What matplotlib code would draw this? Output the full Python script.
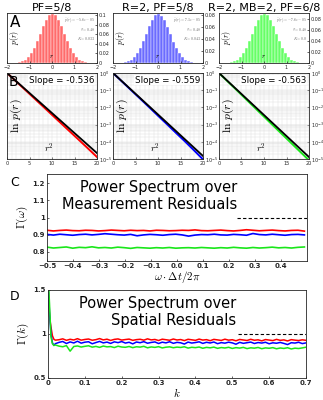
import numpy as np
import matplotlib
matplotlib.use("Agg")
import matplotlib.pyplot as plt
from matplotlib.ticker import MultipleLocator, LogLocator, NullFormatter

plt.rcParams["mathtext.fontset"] = "cm"
plt.rcParams["font.family"] = "DejaVu Sans"

# ---- data ----
titles = ["PF=5/8", "R=2, PF=5/8", "R=2, MB=2, PF=6/8"]
hist_colors = [(1.0, 0.42, 0.42), (0.42, 0.42, 1.0), (0.4, 1.0, 0.4)]
line_colors = [(1.0, 0.0, 0.0), (0.0, 0.0, 1.0), (0.1, 0.9, 0.1)]

bin_centers = np.arange(-12, 13) * (2 / 15)
hist_red = [0.0009, 0.0019, 0.0038, 0.0072, 0.0126, 0.0205, 0.0315, 0.0452, 0.0609, 0.0766, 0.0903, 0.0997, 0.103,
            0.0995, 0.0905, 0.0764, 0.0611, 0.0450, 0.0313, 0.0207, 0.0125, 0.0073, 0.0037, 0.0019, 0.0009]
hist_blue = [0.0007, 0.0015, 0.003, 0.0057, 0.010, 0.0163, 0.0251, 0.036, 0.0485, 0.061, 0.0719, 0.0794, 0.082,
             0.0792, 0.0721, 0.0608, 0.0487, 0.0358, 0.0252, 0.0162, 0.0101, 0.0056, 0.003, 0.0015, 0.0007]
hist_green = [0.0008, 0.0017, 0.0033, 0.0063, 0.011, 0.0179, 0.0275, 0.0395, 0.0532, 0.067, 0.0789, 0.0871, 0.090,
              0.0873, 0.0787, 0.0672, 0.0530, 0.0397, 0.0273, 0.0180, 0.0109, 0.0064, 0.0033, 0.0017, 0.0008]
hist_ylims = [0.105, 0.084, 0.092]
hist_ticks = [[0, 0.02, 0.04, 0.06, 0.08, 0.1], [0, 0.02, 0.04, 0.06, 0.08], [0, 0.02, 0.04, 0.06, 0.08]]
hist_notes = [r"$\bar{p}(r)=-5.6e-05$" + "\n" + r"$\sigma=0.48$" + "\n" + r"$K=0.033$",
              r"$\bar{p}(r)=7.1e-05$" + "\n" + r"$\sigma=0.48$" + "\n" + r"$K=0.043$",
              r"$\bar{p}(r)=-7.6e-05$" + "\n" + r"$\sigma=0.48$" + "\n" + r"$K=0.0$"]

r2 = [0, 2, 4, 6, 8, 10, 12, 14, 16, 18, 20]
lnp_red = [1.0, 0.33, 0.107, 0.035, 0.0114, 3.7e-3, 1.2e-3, 3.9e-4, 1.27e-4, 4.1e-5, 1.3e-5]
lnp_blue = [1.0, 0.32, 0.102, 0.033, 0.0105, 3.3e-3, 1.05e-3, 3.3e-4, 1.05e-4, 3.2e-5, 9.5e-6]
lnp_green = [1.0, 0.31, 0.097, 0.030, 0.0093, 2.9e-3, 9.0e-4, 2.8e-4, 8.7e-5, 2.7e-5, 8.4e-6]
fit_r2 = [0, 20]
fit_red = [1.0, 2.2e-5]
fit_blue = [1.0, 1.5e-5]
fit_green = [1.0, 1.3e-5]
slopes = ["Slope = -0.536", "Slope = -0.559", "Slope = -0.563"]

omega = np.linspace(-0.5, 0.49, 41)
gam_w_red = [0.926, 0.922, 0.925, 0.927, 0.924, 0.923, 0.926, 0.925, 0.922, 0.924, 0.927, 0.925, 0.923, 0.926,
             0.924, 0.925, 0.922, 0.926, 0.925, 0.923, 0.924, 0.926, 0.925, 0.928, 0.924, 0.923, 0.925, 0.927,
             0.924, 0.922, 0.925, 0.929, 0.926, 0.923, 0.925, 0.927, 0.924, 0.922, 0.925, 0.926, 0.921]
gam_w_blue = [0.902, 0.898, 0.903, 0.900, 0.897, 0.901, 0.903, 0.899, 0.902, 0.906, 0.903, 0.900, 0.898, 0.902,
              0.894, 0.899, 0.902, 0.900, 0.897, 0.901, 0.903, 0.899, 0.892, 0.898, 0.901, 0.900, 0.903, 0.899,
              0.898, 0.902, 0.900, 0.897, 0.907, 0.901, 0.899, 0.903, 0.900, 0.897, 0.901, 0.902, 0.899]
gam_w_green = [0.828, 0.823, 0.826, 0.829, 0.822, 0.827, 0.825, 0.830, 0.824, 0.826, 0.823, 0.828, 0.825, 0.821,
               0.826, 0.824, 0.822, 0.825, 0.823, 0.826, 0.822, 0.824, 0.825, 0.823, 0.826, 0.824, 0.822, 0.825,
               0.823, 0.827, 0.824, 0.822, 0.826, 0.823, 0.825, 0.828, 0.824, 0.826, 0.823, 0.827, 0.829]

k = np.concatenate([[0, 0.004, 0.008, 0.012, 0.016, 0.02], np.arange(0.03, 0.705, 0.01)])
gam_k_red = [1.55, 1.20, 1.08, 0.98, 0.94, 0.93,
             0.935, 0.945, 0.928, 0.940, 0.932, 0.947, 0.930, 0.938, 0.943, 0.929,
             0.936, 0.948, 0.933, 0.941, 0.927, 0.939, 0.944, 0.931, 0.937, 0.942,
             0.928, 0.936, 0.940, 0.930, 0.945, 0.933, 0.938, 0.926, 0.941, 0.935,
             0.929, 0.943, 0.932, 0.937, 0.925, 0.940, 0.934, 0.928, 0.942, 0.931,
             0.936, 0.924, 0.939, 0.933, 0.927, 0.941, 0.930, 0.935, 0.923, 0.938,
             0.932, 0.926, 0.940, 0.929, 0.934, 0.922, 0.937, 0.931, 0.925, 0.939,
             0.928, 0.933, 0.921, 0.936, 0.930, 0.926, 0.934, 0.928]
gam_k_blue = [1.60, 1.25, 1.00, 0.90, 0.87, 0.89,
              0.905, 0.915, 0.892, 0.910, 0.898, 0.918, 0.896, 0.907, 0.912, 0.889,
              0.903, 0.916, 0.899, 0.908, 0.893, 0.911, 0.902, 0.914, 0.897, 0.906,
              0.888, 0.909, 0.901, 0.913, 0.895, 0.904, 0.910, 0.892, 0.907, 0.899,
              0.912, 0.894, 0.905, 0.900, 0.886, 0.908, 0.897, 0.903, 0.911, 0.893,
              0.906, 0.898, 0.909, 0.890, 0.902, 0.896, 0.907, 0.899, 0.884, 0.905,
              0.894, 0.901, 0.908, 0.892, 0.903, 0.897, 0.906, 0.889, 0.900, 0.895,
              0.904, 0.893, 0.880, 0.901, 0.897, 0.906, 0.891, 0.899]
gam_k_green = [1.70, 1.35, 0.97, 0.89, 0.87, 0.875,
               0.862, 0.855, 0.868, 0.805, 0.858, 0.864, 0.852, 0.860, 0.866, 0.851,
               0.859, 0.848, 0.863, 0.854, 0.857, 0.846, 0.861, 0.852, 0.849, 0.858,
               0.845, 0.855, 0.851, 0.860, 0.843, 0.853, 0.848, 0.856, 0.842, 0.850,
               0.854, 0.844, 0.851, 0.847, 0.855, 0.840, 0.849, 0.845, 0.852, 0.838,
               0.848, 0.843, 0.851, 0.837, 0.846, 0.841, 0.849, 0.836, 0.845, 0.840,
               0.848, 0.834, 0.843, 0.839, 0.847, 0.833, 0.842, 0.838, 0.845, 0.832,
               0.841, 0.836, 0.844, 0.830, 0.839, 0.835, 0.842, 0.850]

W, H = 323, 400
fig = plt.figure(figsize=(W / 100, H / 100), dpi=100)


def px_axes(left, top, right, bottom):
    return fig.add_axes([left / W, 1 - bottom / H, (right - left) / W, (bottom - top) / H])


def style(ax, size=4.5):
    for s in ax.spines.values():
        s.set_linewidth(0.6)
        s.set_color("0.15")
    ax.tick_params(direction="in", length=1.5, width=0.5, labelsize=size, pad=1.5, colors="0.15")


lefts = [7, 113, 219]

# ---- row A: histograms ----
hists = [hist_red, hist_blue, hist_green]
for i in range(3):
    ax = px_axes(lefts[i], 12.7, lefts[i] + 90, 63)
    ax.bar(bin_centers, hists[i], width=2 / 15, color=hist_colors[i], edgecolor="white", linewidth=0.3)
    ax.set_xlim(-2, 2)
    ax.set_ylim(0, hist_ylims[i])
    ax.set_xticks([-2, -1, 0, 1, 2])
    ax.set_yticks(hist_ticks[i])
    ax.set_yticklabels([f"{t:g}" for t in hist_ticks[i]])
    ax.yaxis.tick_right()
    style(ax, 3.5)
    ax.set_title(titles[i], fontsize=8, pad=1.5)
    ax.text(0.98, 0.95, hist_notes[i], transform=ax.transAxes, ha="right", va="top",
            fontsize=2.8, color="0.4", linespacing=1.4)
    ax.text(0.08, 0.5, r"$p(r)$", transform=ax.transAxes, rotation=90, ha="center", va="center", fontsize=5.5)
    ax.text(0.5, 0.06, r"$r$", transform=ax.transAxes, ha="center", va="bottom", fontsize=5)
    if i == 0:
        ax.text(0.03, 0.95, "A", transform=ax.transAxes, ha="left", va="top", fontsize=11)

# ---- row B: log plots ----
lnps = [lnp_red, lnp_blue, lnp_green]
fits = [fit_red, fit_blue, fit_green]
for i in range(3):
    ax = px_axes(lefts[i], 73, lefts[i] + 90, 159)
    ax.set_yscale("log")
    ax.grid(True, which="both", color="0.86", linewidth=0.3)
    ax.xaxis.set_minor_locator(MultipleLocator(1))
    ax.yaxis.set_minor_locator(LogLocator(base=10, subs=np.arange(2, 10)))
    ax.yaxis.set_minor_formatter(NullFormatter())
    ax.plot(r2, lnps[i], color=line_colors[i], lw=1.4)
    ax.plot(fit_r2, fits[i], color="black", lw=1.3)
    ax.set_xlim(0, 20)
    ax.set_ylim(1e-5, 1)
    ax.set_xticks([0, 5, 10, 15, 20])
    ax.set_yticks([1e-5, 1e-4, 1e-3, 1e-2, 1e-1, 1])
    ax.yaxis.tick_right()
    ax.tick_params(which="minor", length=0)
    style(ax, 3.5)
    ax.text(0.97, 0.97, slopes[i], transform=ax.transAxes, ha="right", va="top", fontsize=6.3,
            bbox=dict(facecolor="white", edgecolor="none", pad=0.5))
    ax.text(0.1, 0.5, r"$\ln\,p(r)$", transform=ax.transAxes, rotation=90, ha="center", va="center",
            fontsize=8.5)
    ax.text(0.47, 0.05, r"$r^2$", transform=ax.transAxes, ha="center", va="bottom", fontsize=7)
    if i == 0:
        ax.text(0.02, 0.98, "B", transform=ax.transAxes, ha="left", va="top", fontsize=10)

# ---- row C ----
ax = px_axes(47, 174.4, 307, 260.6)
ax.plot(omega, gam_w_red, color=line_colors[0], lw=1.2)
ax.plot(omega, gam_w_blue, color=line_colors[1], lw=1.2)
ax.plot(omega, gam_w_green, color=line_colors[2], lw=1.2)
ax.axhline(1, xmin=0.73, color="black", ls="--", lw=0.8, dashes=(3, 2))
ax.set_xlim(-0.5, 0.5)
ax.set_ylim(0.75, 1.25)
ax.set_xticks(np.round(np.arange(-0.5, 0.45, 0.1), 1))
ax.set_yticks([0.8, 0.9, 1, 1.1, 1.2])
ax.set_yticklabels(["0.8", "0.9", "1", "1.1", "1.2"])
style(ax, 5)
for t in ax.get_xticklabels() + ax.get_yticklabels():
    t.set_fontweight("bold")
ax.set_xlabel(r"$\omega\cdot\Delta t/2\pi$", fontsize=8, labelpad=0)
ax.set_ylabel(r"$\Gamma(\omega)$", fontsize=8, labelpad=2)
ax.text(0.73, 0.93, "Power Spectrum over\nMeasurement Residuals", transform=ax.transAxes,
        ha="right", va="top", multialignment="right", fontsize=10.5, linespacing=1.15)
fig.text(10 / W, 1 - 183 / H, "C", fontsize=9, va="center")

# ---- row D ----
ax = px_axes(48, 290, 306, 378)
ax.plot(k, gam_k_red, color=line_colors[0], lw=1.1)
ax.plot(k, gam_k_blue, color=line_colors[1], lw=1.1)
ax.plot(k, gam_k_green, color=line_colors[2], lw=1.1)
ax.axhline(1, xmin=0.735, color="black", ls="--", lw=0.8, dashes=(3, 2))
ax.set_xlim(0, 0.7)
ax.set_ylim(0.5, 1.5)
ax.set_xticks(np.round(np.arange(0, 0.75, 0.1), 1))
ax.set_xticklabels(["0", "0.1", "0.2", "0.3", "0.4", "0.5", "0.6", "0.7"])
ax.set_yticks([0.5, 1, 1.5])
ax.set_yticklabels(["0.5", "1", "1.5"])
style(ax, 5)
for t in ax.get_xticklabels() + ax.get_yticklabels():
    t.set_fontweight("bold")
ax.set_xlabel(r"$k$", fontsize=8, labelpad=0)
ax.set_ylabel(r"$\Gamma(k)$", fontsize=8, labelpad=2)
ax.text(0.73, 0.93, "Power Spectrum over\nSpatial Residuals", transform=ax.transAxes,
        ha="right", va="top", multialignment="right", fontsize=10.5, linespacing=1.15)
fig.text(10 / W, 1 - 297 / H, "D", fontsize=9, va="center")

fig.savefig("out.png", dpi=100)
